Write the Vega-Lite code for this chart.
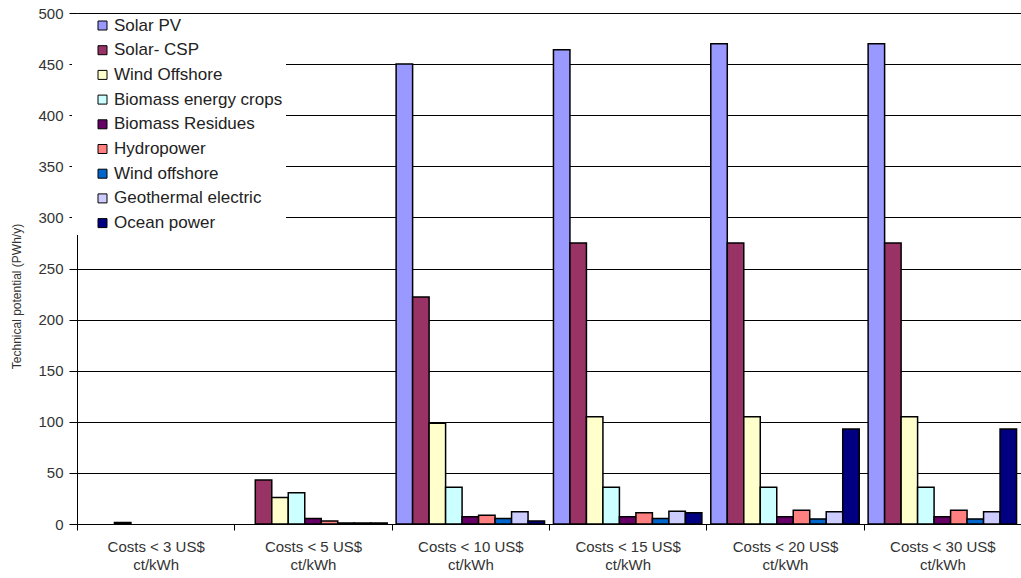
{
  "$schema": "https://vega.github.io/schema/vega-lite/v6.json",
  "width": 944,
  "height": 511,
  "autosize": {"type": "none"},
  "padding": {"left": 77, "top": 13, "right": 0, "bottom": 54},
  "background": "white",
  "config": {"view": {"stroke": null}, "font": "Liberation Sans"},
  "data": {"values": [
    {"cost": "Costs < 3 US$|ct/kWh", "tech": "Wind Offshore", "value": 1.5},
    {"cost": "Costs < 5 US$|ct/kWh", "tech": "Solar- CSP", "value": 43},
    {"cost": "Costs < 5 US$|ct/kWh", "tech": "Wind Offshore", "value": 26},
    {"cost": "Costs < 5 US$|ct/kWh", "tech": "Biomass energy crops", "value": 30.5},
    {"cost": "Costs < 5 US$|ct/kWh", "tech": "Biomass Residues", "value": 5.5},
    {"cost": "Costs < 5 US$|ct/kWh", "tech": "Hydropower", "value": 3},
    {"cost": "Costs < 5 US$|ct/kWh", "tech": "Wind offshore", "value": 1},
    {"cost": "Costs < 5 US$|ct/kWh", "tech": "Geothermal electric", "value": 1},
    {"cost": "Costs < 5 US$|ct/kWh", "tech": "Ocean power", "value": 1},
    {"cost": "Costs < 10 US$|ct/kWh", "tech": "Solar PV", "value": 450},
    {"cost": "Costs < 10 US$|ct/kWh", "tech": "Solar- CSP", "value": 222},
    {"cost": "Costs < 10 US$|ct/kWh", "tech": "Wind Offshore", "value": 98.5},
    {"cost": "Costs < 10 US$|ct/kWh", "tech": "Biomass energy crops", "value": 36},
    {"cost": "Costs < 10 US$|ct/kWh", "tech": "Biomass Residues", "value": 7},
    {"cost": "Costs < 10 US$|ct/kWh", "tech": "Hydropower", "value": 8.5},
    {"cost": "Costs < 10 US$|ct/kWh", "tech": "Wind offshore", "value": 5.5},
    {"cost": "Costs < 10 US$|ct/kWh", "tech": "Geothermal electric", "value": 12},
    {"cost": "Costs < 10 US$|ct/kWh", "tech": "Ocean power", "value": 3},
    {"cost": "Costs < 15 US$|ct/kWh", "tech": "Solar PV", "value": 464},
    {"cost": "Costs < 15 US$|ct/kWh", "tech": "Solar- CSP", "value": 275},
    {"cost": "Costs < 15 US$|ct/kWh", "tech": "Wind Offshore", "value": 105},
    {"cost": "Costs < 15 US$|ct/kWh", "tech": "Biomass energy crops", "value": 36},
    {"cost": "Costs < 15 US$|ct/kWh", "tech": "Biomass Residues", "value": 7},
    {"cost": "Costs < 15 US$|ct/kWh", "tech": "Hydropower", "value": 11},
    {"cost": "Costs < 15 US$|ct/kWh", "tech": "Wind offshore", "value": 5.5},
    {"cost": "Costs < 15 US$|ct/kWh", "tech": "Geothermal electric", "value": 12.5},
    {"cost": "Costs < 15 US$|ct/kWh", "tech": "Ocean power", "value": 11},
    {"cost": "Costs < 20 US$|ct/kWh", "tech": "Solar PV", "value": 470},
    {"cost": "Costs < 20 US$|ct/kWh", "tech": "Solar- CSP", "value": 275},
    {"cost": "Costs < 20 US$|ct/kWh", "tech": "Wind Offshore", "value": 105},
    {"cost": "Costs < 20 US$|ct/kWh", "tech": "Biomass energy crops", "value": 36},
    {"cost": "Costs < 20 US$|ct/kWh", "tech": "Biomass Residues", "value": 7},
    {"cost": "Costs < 20 US$|ct/kWh", "tech": "Hydropower", "value": 13.5},
    {"cost": "Costs < 20 US$|ct/kWh", "tech": "Wind offshore", "value": 5},
    {"cost": "Costs < 20 US$|ct/kWh", "tech": "Geothermal electric", "value": 12},
    {"cost": "Costs < 20 US$|ct/kWh", "tech": "Ocean power", "value": 93},
    {"cost": "Costs < 30 US$|ct/kWh", "tech": "Solar PV", "value": 470},
    {"cost": "Costs < 30 US$|ct/kWh", "tech": "Solar- CSP", "value": 275},
    {"cost": "Costs < 30 US$|ct/kWh", "tech": "Wind Offshore", "value": 105},
    {"cost": "Costs < 30 US$|ct/kWh", "tech": "Biomass energy crops", "value": 36},
    {"cost": "Costs < 30 US$|ct/kWh", "tech": "Biomass Residues", "value": 7},
    {"cost": "Costs < 30 US$|ct/kWh", "tech": "Hydropower", "value": 13.5},
    {"cost": "Costs < 30 US$|ct/kWh", "tech": "Wind offshore", "value": 5},
    {"cost": "Costs < 30 US$|ct/kWh", "tech": "Geothermal electric", "value": 12},
    {"cost": "Costs < 30 US$|ct/kWh", "tech": "Ocean power", "value": 93}
  ]},
  "mark": {"type": "bar", "stroke": "black", "strokeWidth": 1.5, "strokeOpacity": 1},
  "encoding": {
    "x": {
      "field": "cost", "type": "nominal",
      "sort": ["Costs < 3 US$|ct/kWh", "Costs < 5 US$|ct/kWh", "Costs < 10 US$|ct/kWh", "Costs < 15 US$|ct/kWh", "Costs < 20 US$|ct/kWh", "Costs < 30 US$|ct/kWh"],
      "scale": {"paddingInner": 0, "paddingOuter": 0},
      "axis": {
        "title": null, "labelAngle": 0, "labelExpr": "isValid(datum.value) ? split(datum.value, '|') : ''",
        "tickBand": "extent", "domainColor": "black", "tickColor": "black", "tickSize": 6,
        "labelFontSize": 15, "labelColor": "#333", "labelPadding": 9, "labelLineHeight": 18, "grid": false
      }
    },
    "xOffset": {
      "field": "tech", "type": "nominal",
      "sort": ["Solar PV", "Solar- CSP", "Wind Offshore", "Biomass energy crops", "Biomass Residues", "Hydropower", "Wind offshore", "Geothermal electric", "Ocean power"],
      "scale": {"paddingInner": 0, "paddingOuter": 0.27}
    },
    "y": {
      "field": "value", "type": "quantitative",
      "scale": {"domain": [0, 500]},
      "axis": {
        "title": "Technical potential (PWh/y)",
        "values": [0, 50, 100, 150, 200, 250, 300, 350, 400, 450, 500],
        "grid": true, "gridColor": "black", "gridOpacity": 1, "gridWidth": 1,
        "domainColor": "black", "tickColor": "black", "tickSize": 8, "labelPadding": 6,
        "labelFontSize": 15, "labelColor": "#333",
        "titleFontSize": 12, "titleFontWeight": "normal", "titleColor": "#333", "titlePadding": 14, "titleY": 283
      }
    },
    "stroke": {"value": "black"},
    "color": {
      "field": "tech", "type": "nominal",
      "scale": {
        "domain": ["Solar PV", "Solar- CSP", "Wind Offshore", "Biomass energy crops", "Biomass Residues", "Hydropower", "Wind offshore", "Geothermal electric", "Ocean power"],
        "range": ["#9999FF", "#993366", "#FFFFCC", "#CCFFFF", "#660066", "#FF8080", "#0066CC", "#CCCCFF", "#000080"]
      },
      "legend": {
        "title": null, "orient": "none", "legendX": -5, "legendY": 1,
        "fillColor": "white", "padding": 3, "symbolOffset": 19,
        "symbolType": "square", "symbolSize": 81, "symbolStrokeColor": "black", "symbolStrokeWidth": 1, "symbolOpacity": 1,
        "labelFontSize": 17, "labelColor": "#222", "rowPadding": 6.7, "labelOffset": 3, "labelLimit": 400
      }
    }
  }
}
